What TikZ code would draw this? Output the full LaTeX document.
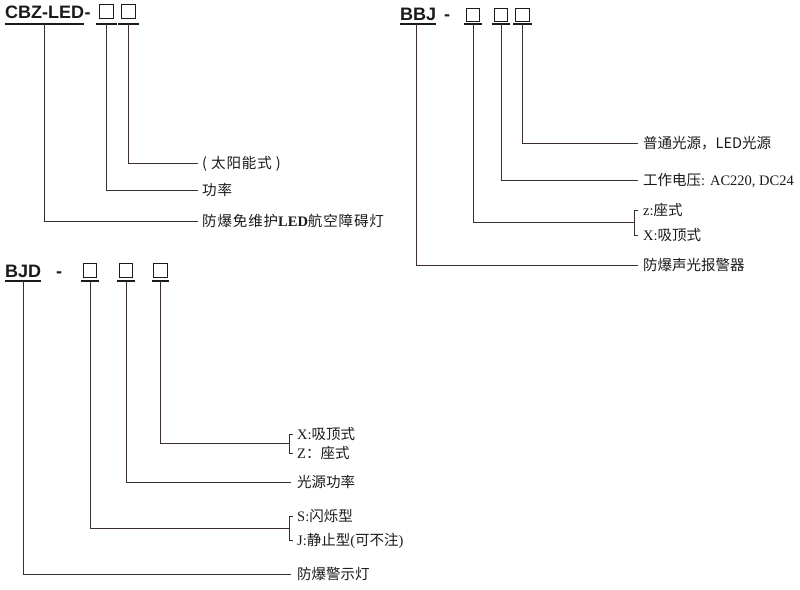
\documentclass[tikz,border=0pt]{standalone}
\usepackage{fontspec}
\setmainfont{Liberation Serif}
\setsansfont{Liberation Sans}
\newfontfamily\cjk{Noto Sans CJK SC}
\newfontfamily\cjkwide{Noto Sans CJK SC}[LetterSpace=6]
\usetikzlibrary{calc, positioning}
\definecolor{ink}{HTML}{1A1A1A}
\definecolor{wire}{HTML}{3A2E2E}
\tikzset{
    title/.style={
        font=\sffamily\bfseries\fontsize{18}{18}\selectfont, text=ink,
        inner sep=0pt, anchor=base west
    },
    codebox/.style={
        rectangle, draw=ink, line width=1.1pt, minimum size=13.5pt, inner sep=0pt
    },
    label/.style={
        font=\fontsize{14.5}{14.5}\selectfont, text=ink, inner sep=0pt,
        text height=13pt, text depth=2pt, anchor=west
    },
    uline/.style={draw=ink, line width=1.2pt},
    wire/.style={draw=wire, line width=1pt}
}

\begin{document}
\begin{tikzpicture}[x=1pt, y=-1pt]
      \useasboundingbox (0,0) rectangle (800,589);

      % CBZ-LED
      \node[title] (cbz) at (5,18) {CBZ-LED};
      \node[title] (cbzdash) at (cbz.base east) {-};
      \node[codebox] (cbz1) at (106.5,11.5) {};
      \node[codebox] (cbz2) at (128.5,11.5) {};
      \coordinate (cbzline) at (0,24);
      \coordinate (cbzroot) at ($(cbz.west |- cbzline)!0.5!(cbz.east |- cbzline)$);

      \node[label] (cbzsun) at (202,163) {\cjkwide ( 太阳能式 )};
      \node[label] (cbzpow) at (202,190) {\cjkwide 功率};
      \node[label] (cbzname) at (202,221) {{\cjkwide 防爆免维护}{\rmfamily\bfseries LED}{\cjkwide 航空障碍灯}};

      \draw[uline] (cbz.west |- cbzline) -- (cbz.east |- cbzline);
      \draw[uline] ($(cbz1.west |- cbzline)+(-3,0)$) -- ($(cbz1.east |- cbzline)+(3,0)$);
      \draw[uline] ($(cbz2.west |- cbzline)+(-3,0)$) -- ($(cbz2.east |- cbzline)+(3,0)$);
      \draw[wire] (cbz2 |- cbzline) |- ($(cbzsun.west)+(-4,0)$);
      \draw[wire] (cbz1 |- cbzline) |- ($(cbzpow.west)+(-4,0)$);
      \draw[wire] (cbzroot) |- ($(cbzname.west)+(-4,0)$);

      % BBJ
      \node[title] (bbj) at (400,20) {BBJ};
      \node[title] (bbjdash) at (444,20) {-};
      \node[codebox] (bbj1) at (473,15) {};
      \node[codebox] (bbj2) at (501,15) {};
      \node[codebox] (bbj3) at (522.5,15) {};
      \coordinate (bbjline) at (0,24);
      \coordinate (bbjroot) at ($(bbj.west |- bbjline)!0.45!(bbj.east |- bbjline)$);

      \node[label] (bbjlamp) at (643,143) {\cjk 普通光源，LED光源};
      \node[label] (bbjvolt) at (643,180) {{\cjk 工作电压}: AC220, DC24};
      \node[label] (bbjz) at (643,210) {z:{\cjk 座式}};
      \node[label] (bbjx) at (643,235) {X:{\cjk 吸顶式}};
      \node[label] (bbjname) at (643,265) {\cjk 防爆声光报警器};
      \coordinate (bbjbrace) at ($(bbjz.west)!0.5!(bbjx.west)+(-9,0)$);

      \draw[uline] (bbj.west |- bbjline) -- (bbj.east |- bbjline);
      \draw[uline] ($(bbj1.west |- bbjline)+(-2,0)$) -- ($(bbj1.east |- bbjline)+(2,0)$);
      \draw[uline] ($(bbj2.west |- bbjline)+(-2,0)$) -- ($(bbj2.east |- bbjline)+(2,0)$);
      \draw[uline] ($(bbj3.west |- bbjline)+(-2,0)$) -- ($(bbj3.east |- bbjline)+(2,0)$);
      \draw[wire] (bbj3 |- bbjline) |- ($(bbjlamp.west)+(-5,0)$);
      \draw[wire] (bbj2 |- bbjline) |- ($(bbjvolt.west)+(-5,0)$);
      \draw[wire] (bbj1 |- bbjline) |- (bbjbrace);
      \draw[wire] ($(bbjz.west)+(-5,0)$) -- ++(-4,0) |- ($(bbjx.west)+(-5,0)$);
      \draw[wire] (bbjroot) |- ($(bbjname.west)+(-5,0)$);

      % BJD
      \node[title] (bjd) at (5,277) {BJD};
      \node[title] (bjddash) at (56,277) {-};
      \node[codebox] (bjd1) at (90,270.5) {};
      \node[codebox] (bjd2) at (126,270.5) {};
      \node[codebox] (bjd3) at (160.5,270.5) {};
      \coordinate (bjdline) at (0,281);
      \coordinate (bjdroot) at ($(bjd.west |- bjdline)!0.5!(bjd.east |- bjdline)$);

      \node[label] (bjdx) at (297,434) {X:{\cjk 吸顶式}};
      \node[label] (bjdz) at (297,453) {Z{\cjk ：座式}};
      \node[label] (bjdpow) at (297,482) {\cjk 光源功率};
      \node[label] (bjds) at (297,516) {S:{\cjk 闪烁型}};
      \node[label] (bjdj) at (297,540) {J:{\cjk 静止型}({\cjk 可不注})};
      \node[label] (bjdname) at (297,574) {\cjk 防爆警示灯};
      \coordinate (bjdbrace1) at ($(bjdx.west)!0.5!(bjdz.west)+(-8,0)$);
      \coordinate (bjdbrace2) at ($(bjds.west)!0.5!(bjdj.west)+(-8,0)$);

      \draw[uline] (bjd.west |- bjdline) -- (bjd.east |- bjdline);
      \draw[uline] ($(bjd1.west |- bjdline)+(-1.5,0)$) -- ($(bjd1.east |- bjdline)+(1.5,0)$);
      \draw[uline] ($(bjd2.west |- bjdline)+(-1.5,0)$) -- ($(bjd2.east |- bjdline)+(1.5,0)$);
      \draw[uline] ($(bjd3.west |- bjdline)+(-1.5,0)$) -- ($(bjd3.east |- bjdline)+(1.5,0)$);
      \draw[wire] (bjd3 |- bjdline) |- (bjdbrace1);
      \draw[wire] ($(bjdx.west)+(-4,0)$) -- ++(-4,0) |- ($(bjdz.west)+(-4,0)$);
      \draw[wire] (bjd2 |- bjdline) |- ($(bjdpow.west)+(-6,0)$);
      \draw[wire] (bjd1 |- bjdline) |- (bjdbrace2);
      \draw[wire] ($(bjds.west)+(-4,0)$) -- ++(-4,0) |- ($(bjdj.west)+(-4,0)$);
      \draw[wire] (bjdroot) |- ($(bjdname.west)+(-6,0)$);
\end{tikzpicture}
\end{document}
